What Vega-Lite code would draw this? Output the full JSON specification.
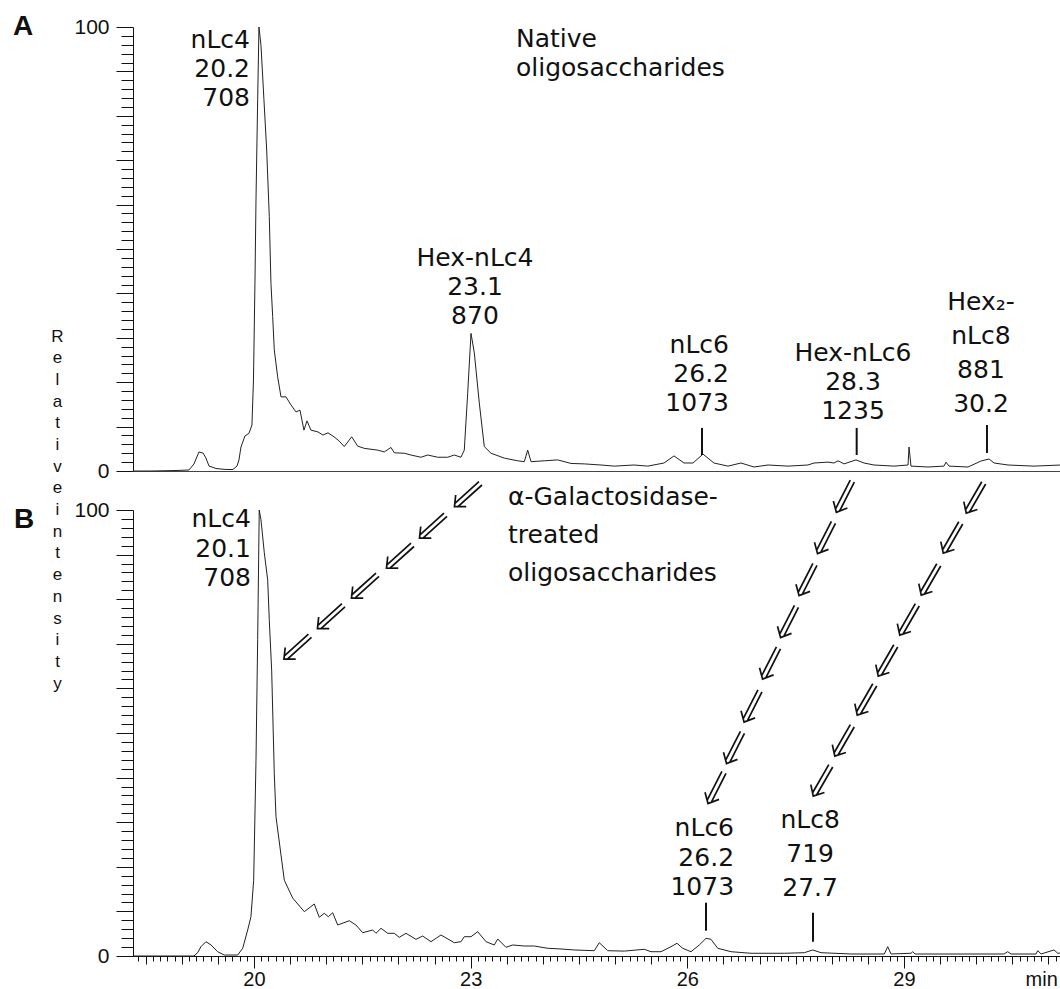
{
  "$schema": "https://vega.github.io/schema/vega-lite/v6.json",
  "background": "white",
  "padding": {"left": 12, "top": 13, "right": 0, "bottom": 0},
  "bounds": "flush",
  "spacing": 39,
  "config": {
    "view": {"stroke": null},
    "font": "Liberation Sans",
    "text": {"font": "DejaVu Sans", "fontSize": 25, "color": "#111"},
    "axis": {"grid": false, "domainColor": "#111", "tickColor": "#111", "labelColor": "#111", "labelFont": "Liberation Sans", "titleFont": "Liberation Sans", "titleColor": "#111"}
  },
  "datasets": {
    "traceA": [
      {"t":18.33,"I":0},{"t":18.574,"I":0},{"t":18.92,"I":0.11},{"t":19.1,"I":0.23},{"t":19.169,"I":1.58},{"t":19.238,"I":4.28},{"t":19.294,"I":4.05},{"t":19.335,"I":2.93},{"t":19.377,"I":1.13},{"t":19.474,"I":0.56},{"t":19.612,"I":0.34},{"t":19.709,"I":0.34},{"t":19.765,"I":1.13},{"t":19.792,"I":2.48},{"t":19.82,"I":5.41},{"t":19.875,"I":7.88},{"t":19.931,"I":8.49},{"t":19.972,"I":10.36},{"t":19.993,"I":20.5},{"t":20.014,"I":43.0},{"t":20.028,"I":61.0},{"t":20.051,"I":83.6},{"t":20.069,"I":100},{"t":20.097,"I":95.9},{"t":20.138,"I":83.6},{"t":20.176,"I":72.3},{"t":20.212,"I":57.3},{"t":20.235,"I":42.3},{"t":20.259,"I":34.8},{"t":20.281,"I":27.3},{"t":20.328,"I":21.2},{"t":20.374,"I":16.7},{"t":20.443,"I":16.7},{"t":20.512,"I":14.9},{"t":20.582,"I":13.3},{"t":20.637,"I":13.7},{"t":20.692,"I":9.2},{"t":20.734,"I":11.3},{"t":20.789,"I":9.2},{"t":20.886,"I":8.8},{"t":20.955,"I":8.1},{"t":21.025,"I":8.6},{"t":21.108,"I":7.7},{"t":21.177,"I":6.8},{"t":21.25,"I":5.5},{"t":21.353,"I":7.7},{"t":21.436,"I":5.6},{"t":21.527,"I":5.1},{"t":21.713,"I":4.7},{"t":21.804,"I":4.3},{"t":21.897,"I":5.3},{"t":21.943,"I":4.1},{"t":22.081,"I":4.0},{"t":22.174,"I":3.6},{"t":22.312,"I":3.1},{"t":22.405,"I":3.6},{"t":22.544,"I":3.1},{"t":22.682,"I":3.1},{"t":22.774,"I":3.6},{"t":22.866,"I":3.1},{"t":22.912,"I":4.7},{"t":22.959,"I":17.5},{"t":23.005,"I":31.0},{"t":23.051,"I":26.6},{"t":23.12,"I":15.3},{"t":23.189,"I":5.5},{"t":23.282,"I":4.0},{"t":23.466,"I":2.9},{"t":23.651,"I":2.3},{"t":23.743,"I":2.1},{"t":23.79,"I":4.7},{"t":23.836,"I":2.1},{"t":24.02,"I":2.3},{"t":24.205,"I":2.5},{"t":24.39,"I":1.7},{"t":24.574,"I":1.6},{"t":24.805,"I":1.35},{"t":24.989,"I":1.1},{"t":25.262,"I":1.35},{"t":25.452,"I":1.1},{"t":25.677,"I":1.8},{"t":25.816,"I":3.4},{"t":25.954,"I":1.8},{"t":26.079,"I":1.8},{"t":26.217,"I":3.8},{"t":26.369,"I":1.8},{"t":26.563,"I":1.1},{"t":26.743,"I":1.8},{"t":26.923,"I":0.9},{"t":27.117,"I":1.35},{"t":27.394,"I":1.1},{"t":27.671,"I":1.35},{"t":27.754,"I":1.8},{"t":27.948,"I":2.0},{"t":28.031,"I":1.8},{"t":28.087,"I":2.3},{"t":28.17,"I":1.6},{"t":28.336,"I":2.5},{"t":28.447,"I":1.8},{"t":28.585,"I":1.35},{"t":28.862,"I":1.1},{"t":29.056,"I":1.35},{"t":29.07,"I":5.4},{"t":29.097,"I":1.1},{"t":29.333,"I":0.9},{"t":29.554,"I":1.1},{"t":29.582,"I":2.0},{"t":29.624,"I":1.1},{"t":29.887,"I":0.9},{"t":30.067,"I":2.25},{"t":30.178,"I":2.7},{"t":30.247,"I":1.8},{"t":30.441,"I":1.35},{"t":30.801,"I":1.1},{"t":31.174,"I":1.35}
    ],
    "traceB": [
      {"t":18.33,"I":0},{"t":19.169,"I":0},{"t":19.22,"I":0.74},{"t":19.266,"I":2.09},{"t":19.335,"I":3.21},{"t":19.405,"I":2.47},{"t":19.497,"I":0.96},{"t":19.589,"I":0.22},{"t":19.774,"I":0.22},{"t":19.844,"I":1.73},{"t":19.913,"I":5.83},{"t":19.958,"I":8.81},{"t":19.996,"I":17.0},{"t":20.028,"I":43.9},{"t":20.051,"I":70.9},{"t":20.073,"I":100},{"t":20.097,"I":97.8},{"t":20.143,"I":90.4},{"t":20.19,"I":84.3},{"t":20.212,"I":75.3},{"t":20.245,"I":64.1},{"t":20.281,"I":41.0},{"t":20.305,"I":31.2},{"t":20.42,"I":17.0},{"t":20.536,"I":13.0},{"t":20.697,"I":9.93},{"t":20.835,"I":11.66},{"t":20.904,"I":8.68},{"t":20.973,"I":9.57},{"t":21.029,"I":8.81},{"t":21.09,"I":9.71},{"t":21.159,"I":6.95},{"t":21.32,"I":7.91},{"t":21.412,"I":6.95},{"t":21.505,"I":5.22},{"t":21.644,"I":5.83},{"t":21.689,"I":5.09},{"t":21.759,"I":6.21},{"t":21.851,"I":5.09},{"t":21.943,"I":5.09},{"t":22.012,"I":4.19},{"t":22.105,"I":5.09},{"t":22.243,"I":3.74},{"t":22.336,"I":4.48},{"t":22.451,"I":3.21},{"t":22.589,"I":4.71},{"t":22.774,"I":2.98},{"t":22.866,"I":3.21},{"t":22.912,"I":4.33},{"t":23.005,"I":4.33},{"t":23.098,"I":5.45},{"t":23.213,"I":3.21},{"t":23.327,"I":2.47},{"t":23.375,"I":3.81},{"t":23.489,"I":1.95},{"t":23.582,"I":2.47},{"t":23.743,"I":2.24},{"t":23.881,"I":2.24},{"t":24.067,"I":1.73},{"t":24.251,"I":1.57},{"t":24.435,"I":1.35},{"t":24.712,"I":1.19},{"t":24.781,"I":2.98},{"t":24.898,"I":1.19},{"t":25.128,"I":1.1},{"t":25.404,"I":1.5},{"t":25.497,"I":0.96},{"t":25.636,"I":0.96},{"t":25.774,"I":2.09},{"t":25.857,"I":2.85},{"t":25.936,"I":1.73},{"t":26.051,"I":0.96},{"t":26.166,"I":2.47},{"t":26.259,"I":3.97},{"t":26.328,"I":3.74},{"t":26.421,"I":1.73},{"t":26.605,"I":0.96},{"t":26.882,"I":0.61},{"t":27.343,"I":0.61},{"t":27.62,"I":0.74},{"t":27.736,"I":1.35},{"t":27.851,"I":0.74},{"t":28.267,"I":0.45},{"t":28.728,"I":0.45},{"t":28.775,"I":2.09},{"t":28.82,"I":0.45},{"t":29.097,"I":0.61},{"t":29.121,"I":0.96},{"t":29.153,"I":0.45},{"t":29.651,"I":0.45},{"t":30.385,"I":0.45},{"t":30.436,"I":0.96},{"t":30.482,"I":0.45},{"t":30.828,"I":0.45},{"t":30.852,"I":1.19},{"t":30.898,"I":0.45},{"t":31.078,"I":1.35},{"t":31.129,"I":0.61},{"t":31.174,"I":0.67}
    ],
    "arrows": [
      {"chain":1,"t":22.956,"I":103.36},{"chain":1,"t":22.472,"I":96.3},{"chain":1,"t":22.015,"I":89.57},{"chain":1,"t":21.53,"I":82.85},{"chain":1,"t":21.059,"I":76.01},{"chain":1,"t":20.595,"I":69.17},
      {"chain":2,"t":28.174,"I":102.98},{"chain":2,"t":27.913,"I":93.72},{"chain":2,"t":27.657,"I":84.3},{"chain":2,"t":27.401,"I":74.89},{"chain":2,"t":27.152,"I":65.58},{"chain":2,"t":26.896,"I":55.94},{"chain":2,"t":26.653,"I":46.64},{"chain":2,"t":26.397,"I":37.67},
      {"chain":3,"t":29.983,"I":102.69},{"chain":3,"t":29.665,"I":93.72},{"chain":3,"t":29.36,"I":84.3},{"chain":3,"t":29.063,"I":75.34},{"chain":3,"t":28.765,"I":66.14},{"chain":3,"t":28.474,"I":57.4},{"chain":3,"t":28.163,"I":48.21},{"chain":3,"t":27.865,"I":39.24}
    ]
  },
  "vconcat": [
    {
      "width": 928,
      "height": 444,
      "encoding": {
        "x": {"field": "t", "type": "quantitative", "scale": {"domain": [18.325, 31.174], "nice": false, "zero": false},
              "axis": {"ticks": false, "labels": false, "title": null, "domainColor": "#444"}},
        "y": {"field": "I", "type": "quantitative", "scale": {"domain": [0, 100], "nice": false, "zero": false},
              "axis": {
                "values": [0,2,4,6,8,10,12,14,16,18,20,22,24,26,28,30,32,34,36,38,40,42,44,46,48,50,52,54,56,58,60,62,64,66,68,70,72,74,76,78,80,82,84,86,88,90,92,94,96,98,100],
                "labelExpr": "datum.value == 0 || datum.value == 100 ? datum.label : ''",
                "labelOverlap": false, "labelBound": false, "labelFlush": false,
                "tickSize": {"condition": {"test": "datum.value % 10 == 0", "value": 17}, "value": 12},
                "labelFontSize": 21, "labelPadding": 7,
                "title": ["R","e","l","a","t","i","v","e","i","n","t","e","n","s","i","t","y"],
                "titleAngle": 0, "titleAlign": "center", "titleBaseline": "top",
                "titleX": -76, "titleY": 301, "titleFontSize": 17, "titleFontWeight": "normal", "titleLineHeight": 21.7
              }}
      },
      "layer": [
        {"data": {"name": "traceA"}, "mark": {"type": "line", "color": "#222", "strokeWidth": 1}},
        {"data": {"values": [{"t":26.203,"I":3.6,"I2":9.7},{"t":28.345,"I":3.6,"I2":9.7},{"t":30.149,"I":4.05,"I2":10.36}]},
         "mark": {"type": "rule", "color": "#111", "strokeWidth": 2}, "encoding": {"y2": {"field": "I2"}}},
        {"data": {"values": [{"t":19.945,"I":99.7,"label":"nLc4\n20.2\n708"},{"t":26.577,"I":31.0,"label":"nLc6\n26.2\n1073"}]},
         "mark": {"type": "text", "align": "right", "baseline": "top", "lineHeight": 29, "lineBreak": "\n"},
         "encoding": {"text": {"field": "label"}}},
        {"data": {"values": [{"t":23.06,"I":50.6,"label":"Hex-nLc4\n23.1\n870"},{"t":28.294,"I":29.2,"label":"Hex-nLc6\n28.3\n1235"}]},
         "mark": {"type": "text", "align": "center", "baseline": "top", "lineHeight": 29, "lineBreak": "\n"},
         "encoding": {"text": {"field": "label"}}},
        {"data": {"values": [{"t":30.066,"I":40.8,"label":"Hex₂-\nnLc8\n881\n30.2"}]},
         "mark": {"type": "text", "align": "center", "baseline": "top", "lineHeight": 34, "lineBreak": "\n"},
         "encoding": {"text": {"field": "label"}}},
        {"data": {"values": [{"t":23.628,"I":100.1,"label":"Native\noligosaccharides"}]},
         "mark": {"type": "text", "align": "left", "baseline": "top", "lineHeight": 29.5, "lineBreak": "\n"},
         "encoding": {"text": {"field": "label"}}},
        {"data": {"values": [{"t":16.663,"I":103.15,"label":"A"}]},
         "mark": {"type": "text", "align": "left", "baseline": "top", "font": "Liberation Sans", "fontSize": 28, "fontWeight": "bold"},
         "encoding": {"text": {"field": "label"}}}
      ]
    },
    {
      "width": 928,
      "height": 446,
      "encoding": {
        "x": {"field": "t", "type": "quantitative", "scale": {"domain": [18.325, 31.174], "nice": false, "zero": false},
              "axis": {
                "values": [18.4,18.5,18.6,18.7,18.8,18.9,19,19.1,19.2,19.3,19.4,19.5,19.6,19.7,19.8,19.9,20,20.1,20.2,20.3,20.4,20.5,20.6,20.7,20.8,20.9,21,21.1,21.2,21.3,21.4,21.5,21.6,21.7,21.8,21.9,22,22.1,22.2,22.3,22.4,22.5,22.6,22.7,22.8,22.9,23,23.1,23.2,23.3,23.4,23.5,23.6,23.7,23.8,23.9,24,24.1,24.2,24.3,24.4,24.5,24.6,24.7,24.8,24.9,25,25.1,25.2,25.3,25.4,25.5,25.6,25.7,25.8,25.9,26,26.1,26.2,26.3,26.4,26.5,26.6,26.7,26.8,26.9,27,27.1,27.2,27.3,27.4,27.5,27.6,27.7,27.8,27.9,28,28.1,28.2,28.3,28.4,28.5,28.6,28.7,28.8,28.9,29,29.1,29.2,29.3,29.4,29.5,29.6,29.7,29.8,29.9,30,30.1,30.2,30.3,30.4,30.5,30.6,30.7,30.8,30.9,31,31.1],
                "labelExpr": "abs(datum.value - round(datum.value)) < 0.01 && round(datum.value) % 3 == 2 ? format(datum.value, 'd') : (abs(datum.value - 30.9) < 0.01 ? 'min' : '')",
                "labelOverlap": false, "labelBound": false, "labelFlush": false,
                "tickSize": {"condition": [{"test": "abs(datum.value - round(datum.value)) < 0.01 && round(datum.value) % 3 == 2", "value": 12}, {"test": "abs(datum.value * 2 - round(datum.value * 2)) < 0.01", "value": 8}], "value": 5},
                "labelPadding": {"condition": {"test": "abs(datum.value - 30.9) < 0.01", "value": 8}, "value": 1},
                "labelFontSize": 20, "title": null
              }},
        "y": {"field": "I", "type": "quantitative", "scale": {"domain": [0, 100], "nice": false, "zero": false},
              "axis": {
                "values": [0,2,4,6,8,10,12,14,16,18,20,22,24,26,28,30,32,34,36,38,40,42,44,46,48,50,52,54,56,58,60,62,64,66,68,70,72,74,76,78,80,82,84,86,88,90,92,94,96,98,100],
                "labelExpr": "datum.value == 0 || datum.value == 100 ? datum.label : ''",
                "labelOverlap": false, "labelBound": false, "labelFlush": false,
                "tickSize": {"condition": {"test": "datum.value % 10 == 0", "value": 17}, "value": 12},
                "labelFontSize": 21, "labelPadding": 7, "title": null
              }}
      },
      "layer": [
        {"data": {"name": "traceB"}, "mark": {"type": "line", "color": "#222", "strokeWidth": 1}},
        {"data": {"values": [{"t":26.259,"I":5.67,"I2":11.95},{"t":27.74,"I":3.2,"I2":9.7}]},
         "mark": {"type": "rule", "color": "#111", "strokeWidth": 2}, "encoding": {"y2": {"field": "I2"}}},
        {"data": {"name": "arrows"}, "transform": [{"filter": "datum.chain == 1"}],
         "mark": {"type": "point", "shape": "M-1,-0.13L0.85,-0.13M-1,0.13L0.85,0.13M0.5,-0.45L1,0L0.5,0.45", "size": 1225, "angle": 138, "filled": false, "color": "#111", "strokeWidth": 1.7, "opacity": 1}},
        {"data": {"name": "arrows"}, "transform": [{"filter": "datum.chain == 2"}],
         "mark": {"type": "point", "shape": "M-1,-0.13L0.85,-0.13M-1,0.13L0.85,0.13M0.5,-0.45L1,0L0.5,0.45", "size": 1225, "angle": 117, "filled": false, "color": "#111", "strokeWidth": 1.7, "opacity": 1}},
        {"data": {"name": "arrows"}, "transform": [{"filter": "datum.chain == 3"}],
         "mark": {"type": "point", "shape": "M-1,-0.13L0.85,-0.13M-1,0.13L0.85,0.13M0.5,-0.45L1,0L0.5,0.45", "size": 1225, "angle": 120, "filled": false, "color": "#111", "strokeWidth": 1.7, "opacity": 1}},
        {"data": {"values": [{"t":19.958,"I":100.6,"label":"nLc4\n20.1\n708"},{"t":26.647,"I":31.3,"label":"nLc6\n26.2\n1073"}]},
         "mark": {"type": "text", "align": "right", "baseline": "top", "lineHeight": 29.5, "lineBreak": "\n"},
         "encoding": {"text": {"field": "label"}}},
        {"data": {"values": [{"t":27.70,"I":33.1,"label":"nLc8\n719\n27.7"}]},
         "mark": {"type": "text", "align": "center", "baseline": "top", "lineHeight": 34, "lineBreak": "\n"},
         "encoding": {"text": {"field": "label"}}},
        {"data": {"values": [{"t":23.517,"I":105.5,"label":"α-Galactosidase-\ntreated\noligosaccharides"}]},
         "mark": {"type": "text", "align": "left", "baseline": "top", "lineHeight": 38, "lineBreak": "\n"},
         "encoding": {"text": {"field": "label"}}},
        {"data": {"values": [{"t":16.677,"I":100.9,"label":"B"}]},
         "mark": {"type": "text", "align": "left", "baseline": "top", "font": "Liberation Sans", "fontSize": 28, "fontWeight": "bold"},
         "encoding": {"text": {"field": "label"}}}
      ]
    }
  ]
}
